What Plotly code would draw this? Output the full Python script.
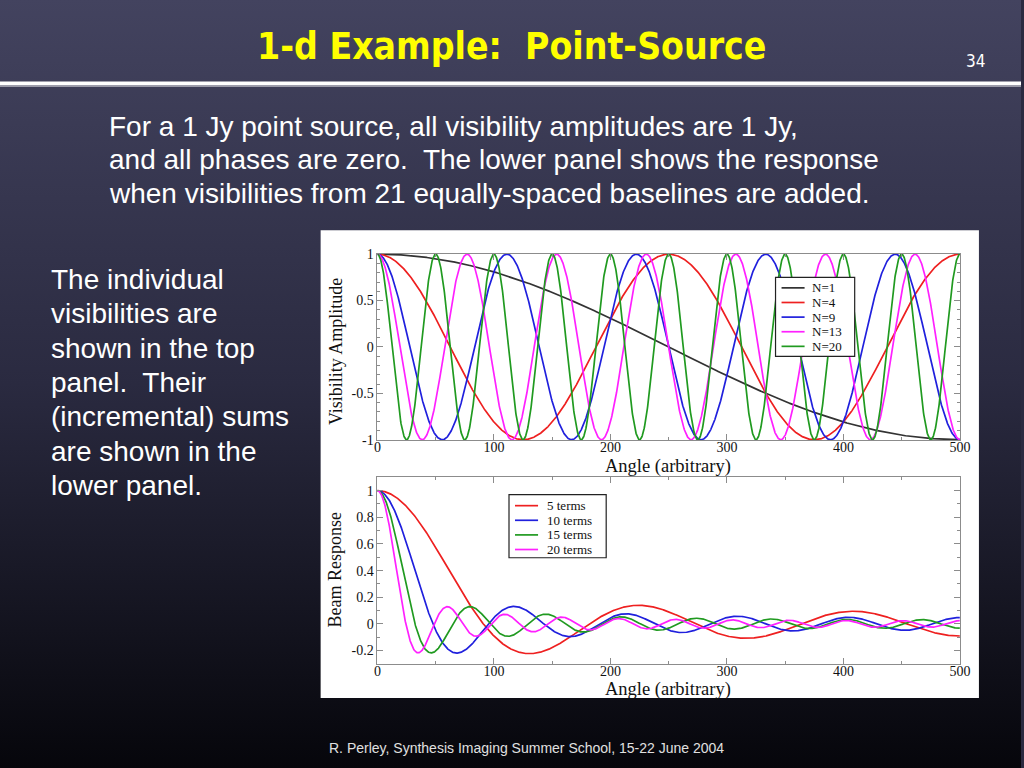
import numpy as np
import plotly.graph_objects as go
import base64

# ---------------- data ----------------
# Top panel: individual visibilities (cosines of baseline index N)
N_values = [1, 4, 9, 13, 20]
N_labels = ["N=1", "N=4", "N=9", "N=13", "N=20"]
N_colors = ["#333333", "#ee2020", "#2020dd", "#ff20ff", "#209a20"]

# Lower panel: incremental sums (beam response) for a number of terms
term_counts = [5, 10, 15, 20]
term_labels = ["5 terms", "10 terms", "15 terms", "20 terms"]
term_colors = ["#ee2020", "#2020dd", "#209a20", "#ff20ff"]

x_ticks = [0, 100, 200, 300, 400, 500]
top_yticks = [1, 0.5, 0, -0.5, -1]
top_ytext = ["1", "0.5", "0", "-0.5", "-1"]
bot_yticks = [1, 0.8, 0.6, 0.4, 0.2, 0, -0.2]
bot_ytext = ["1", "0.8", "0.6", "0.4", "0.2", "0", "-0.2"]

angle = np.linspace(0, 500, 2001)
theta = np.pi * angle / 500.0

W, H = 1024, 768
INSET = 8                     # plot area is drawn inset by this many px
PW, PH = W - 2 * INSET, H - 2 * INSET


def px(x):
    return (x - INSET) / PW


def py(y):
    return 1 - (y - INSET) / PH


fig = go.Figure()

# top panel traces
for n, lab, col in zip(N_values, N_labels, N_colors):
    fig.add_trace(go.Scatter(x=angle, y=np.cos(n * theta), mode="lines",
                             name=lab, line=dict(color=col, width=1.7),
                             xaxis="x", yaxis="y", showlegend=False))

# lower panel traces (symmetric sum over -n..n baselines, normalised)
for n, lab, col in zip(term_counts, term_labels, term_colors):
    k = np.arange(-n, n + 1)
    resp = np.cos(np.outer(theta, k)).sum(axis=1) / len(k)
    fig.add_trace(go.Scatter(x=angle, y=resp, mode="lines",
                             name=lab, line=dict(color=col, width=1.7),
                             xaxis="x2", yaxis="y2", showlegend=False))

# background gradient as svg image covering the whole figure
svg = ('<svg xmlns="http://www.w3.org/2000/svg" width="1024" height="768" '
       'viewBox="0 0 1024 768" preserveAspectRatio="none">'
       '<defs><linearGradient id="g" x1="0" y1="0" x2="0" y2="1">'
       '<stop offset="0" stop-color="#43435f"/>'
       '<stop offset="0.5" stop-color="#2a2a40"/>'
       '<stop offset="1" stop-color="#06060b"/>'
       '</linearGradient></defs>'
       '<rect width="1024" height="768" fill="url(#g)"/></svg>')
src = "data:image/svg+xml;base64," + base64.b64encode(svg.encode()).decode()

serif = "Liberation Serif, Times New Roman, serif"
sans = "Liberation Sans, Arial, sans-serif"

axis_common = dict(showline=True, linecolor="#8c8c8c", linewidth=1,
                   mirror="allticks", ticks="inside", ticklen=6,
                   tickcolor="#8c8c8c", showgrid=False, zeroline=False,
                   tickfont=dict(family=serif, size=14, color="#111"),
                   fixedrange=True)

shapes = [
    dict(type="rect", xref="paper", yref="paper", x0=px(325), x1=px(982),
         y0=py(698), y1=py(231), fillcolor="white", line=dict(width=0),
         layer="below"),
    dict(type="rect", xref="paper", yref="paper", x0=px(0), x1=px(W),
         y0=py(86.5), y1=py(82.5), fillcolor="white", line=dict(width=0),
         layer="below"),
    dict(type="rect", xref="paper", yref="paper", x0=px(0), x1=px(W),
         y0=py(88), y1=py(86.5), fillcolor="#9a9aa8", line=dict(width=0),
         layer="below"),
]

ann = []


def text(x, y, s, size, color, family=sans, xanchor="left", bold=False,
         angle=0):
    if bold:
        s = "<b>" + s + "</b>"
    ann.append(dict(x=px(x), y=py(y), xref="paper", yref="paper", text=s,
                    showarrow=False, xanchor=xanchor, yanchor="middle",
                    textangle=angle, borderpad=0,
                    font=dict(family=family, size=size, color=color)))


def legend_box(x0, y0, x1, y1, labels, colors, first_y, step, lx0, lx1, tx):
    shapes.append(dict(type="rect", xref="paper", yref="paper",
                       x0=px(x0), x1=px(x1), y0=py(y1), y1=py(y0),
                       fillcolor="white", line=dict(color="#222", width=1.2)))
    for i, (lab, col) in enumerate(zip(labels, colors)):
        yy = first_y + step * i
        shapes.append(dict(type="line", xref="paper", yref="paper",
                           x0=px(lx0), x1=px(lx1), y0=py(yy), y1=py(yy),
                           line=dict(color=col, width=1.7)))
        text(tx, yy, lab, 13, "#111", family=serif)


legend_box(779, 278, 858, 357, N_labels, N_colors, 288.5, 14.6, 785, 808, 814)
legend_box(513, 495, 610, 558, term_labels, term_colors, 506, 14.6, 519, 542, 550)

fig.update_layout(
    width=W, height=H,
    margin=dict(l=0, r=0, t=0, b=0),
    paper_bgcolor="#2a2a40",
    plot_bgcolor="rgba(0,0,0,0)",
    showlegend=False,
    images=[dict(source=src, xref="paper", yref="paper",
                 x=px(0), y=py(0), sizex=W / PW, sizey=H / PH,
                 xanchor="left", yanchor="top",
                 sizing="stretch", layer="below")],
    xaxis=dict(domain=[px(381.7), px(963)], range=[0, 500], anchor="y",
               tickvals=x_ticks, ticklabelstandoff=-6,
               minor=dict(ticks="inside", dtick=50, ticklen=3,
                          tickcolor="#8c8c8c"),
               **axis_common),
    yaxis=dict(domain=[py(440.5), py(254.5)], range=[-1.004, 1.004], anchor="x",
               tickvals=top_yticks, ticktext=top_ytext,
               minor=dict(ticks="inside", dtick=0.1, ticklen=3,
                          tickcolor="#8c8c8c"),
               **axis_common),
    xaxis2=dict(domain=[px(381.7), px(963)], range=[0, 500], anchor="y2",
                tickvals=x_ticks, ticklabelstandoff=-6,
                minor=dict(ticks="inside", dtick=50, ticklen=3,
                           tickcolor="#8c8c8c"),
                **axis_common),
    yaxis2=dict(domain=[py(664), py(477.7)], range=[-0.3, 1.1], anchor="x2",
                tickvals=bot_yticks, ticktext=bot_ytext,
                minor=dict(ticks="inside", dtick=0.1, ticklen=3,
                           tickcolor="#8c8c8c"),
                **axis_common),
)

text(515, 47, "1-d Example:  Point-Source", 37, "#ffff00",
     family="DejaVu Sans Condensed, Liberation Sans Narrow, Arial Narrow",
     xanchor="center", bold=True)
text(979, 62, "34", 17, "#ffffff",
     family="DejaVu Sans Condensed, Liberation Sans Narrow, Arial Narrow",
     xanchor="center")

body = ["For a 1 Jy point source, all visibility amplitudes are 1 Jy,",
        "and all phases are zero.  The lower panel shows the response",
        "when visibilities from 21 equally-spaced baselines are added."]
for i, s in enumerate(body):
    text(113, 127 + 33.5 * i, s, 28, "#ffffff")

side = ["The individual", "visibilities are", "shown in the top",
        "panel.  Their", "(incremental) sums", "are shown in the",
        "lower panel."]
for i, s in enumerate(side):
    text(55, 280 + 34.3 * i, s, 28, "#ffffff")

text(530, 748, "R. Perley, Synthesis Imaging Summer School, 15-22 June 2004",
     14, "#e0e0e0", xanchor="center")

# axis titles
text(341, 352, "Visibility Amplitude", 18, "#111", family=serif,
     xanchor="center", angle=-90)
text(672, 467, "Angle (arbitrary)", 18.5, "#111", family=serif,
     xanchor="center")
text(339, 570, "Beam Response", 18, "#111", family=serif,
     xanchor="center", angle=-90)
text(672, 690, "Angle (arbitrary)", 18.5, "#111", family=serif,
     xanchor="center")

fig.update_layout(annotations=ann, shapes=shapes)

post = ("var de=document.documentElement, b=document.body;"
        "de.style.margin='0'; b.style.margin='0';"
        "de.style.overflow='hidden'; b.style.overflow='hidden';"
        "de.style.background='#2a2a40';")

fig.write_html("out.html", config={"displayModeBar": False},
               post_script=post)
